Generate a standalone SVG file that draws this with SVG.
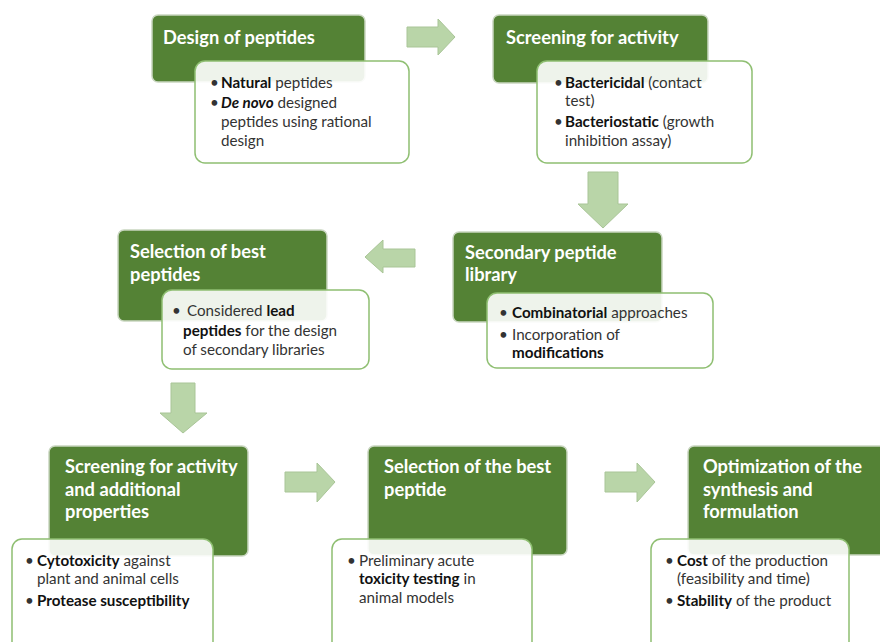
<svg xmlns="http://www.w3.org/2000/svg" width="880" height="642" viewBox="0 0 880 642">
<style>
.g{fill:#548235;stroke:#c9d6c0;stroke-width:1.5}
.w{fill:#ffffff;fill-opacity:0.9;stroke:#8fbf72;stroke-width:1.5}
.t{font-family:Lato,"Liberation Sans",sans-serif;font-weight:bold;font-size:18.3px;fill:#ffffff}
.b{font-family:Lato,"Liberation Sans",sans-serif;font-size:15.2px;fill:#333333}
.bb{font-weight:bold;fill:#111}
.ar{fill:#b9d5a8;stroke:#a9c597;stroke-width:1}
</style>
<rect width="880" height="642" fill="#ffffff"/>
<g id="connectors">
<polygon class="ar" points="407,27 438,27 438,19 455,37 438,55 438,47 407,47"/>
<polygon class="ar" points="588,172 618,172 618,204 628,204 603,228 578,204 588,204"/>
<polygon class="ar" points="415,249 383,249 383,240 365,257 383,273 383,267 415,267"/>
<polygon class="ar" points="171,383 195,383 195,413 207,413 183,433 160,413 171,413"/>
<polygon class="ar" points="285,472 317,472 317,463 335,482 317,502 317,492 285,492"/>
<polygon class="ar" points="605,472 637,472 637,463 655,482 637,502 637,492 605,492"/>
</g>
<g id="n1">
<rect class="g" x="152" y="15" width="213" height="67" rx="6"/>
<text class="t" x="163" y="44">Design of peptides</text>
<rect class="w" x="195" y="61" width="214" height="102" rx="10"/>
<text class="b" x="210" y="88">•</text>
<text class="b" x="221" y="88"><tspan class="bb">Natural</tspan> peptides</text>
<text class="b" x="210" y="108">•</text>
<text class="b" x="221" y="108"><tspan class="bb" font-style="italic">De novo</tspan> designed</text>
<text class="b" x="221" y="127">peptides using rational</text>
<text class="b" x="221" y="146">design</text>
</g>
<g id="n2">
<rect class="g" x="493" y="15" width="215" height="68" rx="6"/>
<text class="t" x="506" y="44">Screening for activity</text>
<rect class="w" x="537" y="61" width="215" height="102" rx="10"/>
<text class="b" x="554" y="88">•</text>
<text class="b" x="565" y="88"><tspan class="bb">Bactericidal</tspan> (contact</text>
<text class="b" x="565" y="106">test)</text>
<text class="b" x="554" y="127">•</text>
<text class="b" x="565" y="127"><tspan class="bb">Bacteriostatic</tspan> (growth</text>
<text class="b" x="565" y="146">inhibition assay)</text>
</g>
<g id="n3">
<rect class="g" x="118" y="230" width="209" height="91" rx="6"/>
<text class="t" x="130" y="258">Selection of best</text>
<text class="t" x="130" y="281">peptides</text>
<rect class="w" x="162" y="290" width="207" height="79" rx="10"/>
<text class="b" x="172" y="316">•</text>
<text class="b" x="187" y="316">Considered <tspan class="bb">lead</tspan></text>
<text class="b" x="183" y="336"><tspan class="bb">peptides</tspan> for the design</text>
<text class="b" x="183" y="355">of secondary libraries</text>
</g>
<g id="n4">
<rect class="g" x="453" y="232" width="209" height="90" rx="6"/>
<text class="t" x="465" y="259">Secondary peptide</text>
<text class="t" x="465" y="281">library</text>
<rect class="w" x="487" y="293" width="226" height="75" rx="10"/>
<text class="b" x="499" y="318">•</text>
<text class="b" x="512" y="318"><tspan class="bb">Combinatorial</tspan> approaches</text>
<text class="b" x="499" y="340">•</text>
<text class="b" x="512" y="340">Incorporation of</text>
<text class="b" x="512" y="358"><tspan class="bb">modifications</tspan></text>
</g>
<g id="n5">
<rect class="g" x="49" y="446" width="199" height="110" rx="6"/>
<text class="t" x="65" y="473">Screening for activity</text>
<text class="t" x="65" y="496">and additional</text>
<text class="t" x="65" y="518">properties</text>
<rect class="w" x="12" y="539" width="201" height="115" rx="10"/>
<text class="b" x="25" y="566">•</text>
<text class="b" x="37" y="566"><tspan class="bb">Cytotoxicity</tspan> against</text>
<text class="b" x="37" y="584">plant and animal cells</text>
<text class="b" x="25" y="606">•</text>
<text class="b" x="37" y="606"><tspan class="bb">Protease susceptibility</tspan></text>
</g>
<g id="n6">
<rect class="g" x="368" y="446" width="199" height="109" rx="6"/>
<text class="t" x="384" y="473">Selection of the best</text>
<text class="t" x="384" y="496">peptide</text>
<rect class="w" x="332" y="539" width="200" height="115" rx="10"/>
<text class="b" x="347" y="566">•</text>
<text class="b" x="359" y="566">Preliminary acute</text>
<text class="b" x="359" y="584"><tspan class="bb">toxicity testing</tspan> in</text>
<text class="b" x="359" y="603">animal models</text>
</g>
<g id="n7">
<rect class="g" x="688" y="446" width="200" height="109" rx="6"/>
<text class="t" x="703" y="473">Optimization of the</text>
<text class="t" x="703" y="496">synthesis and</text>
<text class="t" x="703" y="518">formulation</text>
<rect class="w" x="651" y="539" width="198" height="115" rx="10"/>
<text class="b" x="665" y="566">•</text>
<text class="b" x="677" y="566"><tspan class="bb">Cost</tspan> of the production</text>
<text class="b" x="677" y="584">(feasibility and time)</text>
<text class="b" x="665" y="606">•</text>
<text class="b" x="677" y="606"><tspan class="bb">Stability</tspan> of the product</text>
</g>
</svg>
